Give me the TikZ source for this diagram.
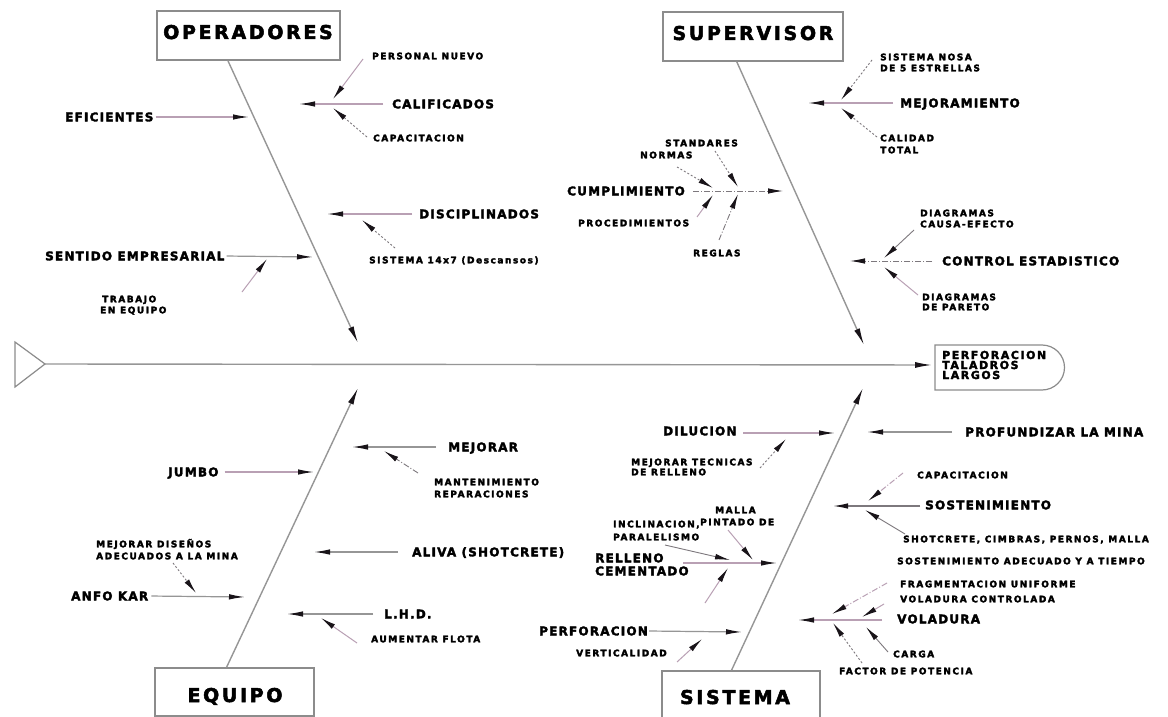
\documentclass[tikz,border=0pt]{standalone}
\usepackage{fontspec}
\usetikzlibrary{arrows.meta,calc}
\newfontfamily\fhead{DejaVu Sans}[LetterSpace=14, BoldFeatures={FakeBold=2.6}]
\newfontfamily\fmid{DejaVu Sans}[LetterSpace=10, BoldFeatures={FakeBold=2.6}]
\newfontfamily\fsml{DejaVu Sans}[LetterSpace=17, BoldFeatures={FakeBold=3}]
\newfontfamily\ftip{DejaVu Sans}[LetterSpace=14, BoldFeatures={FakeBold=2.6}]
\definecolor{bonec}{RGB}{150,150,150}
\definecolor{branchc}{RGB}{185,160,180}
\definecolor{diagc}{RGB}{125,120,125}
\definecolor{tipc}{RGB}{25,20,25}
\definecolor{boxc}{RGB}{140,140,140}
\tikzset{
  catbox/.style={draw=boxc, line width=1.2pt, fill=white, inner sep=0pt},
  cattext/.style={inner sep=0pt, text height=14pt, text depth=0pt,
    font=\fhead\bfseries\fontsize{19}{19}\selectfont},
  headtxt/.style={inner sep=0pt, anchor=west, align=left,
    font=\ftip\bfseries\fontsize{11}{10}\selectfont},
  lblM/.style={inner sep=0pt, anchor=west, text height=8.7pt, text depth=0pt,
    font=\fmid\bfseries\fontsize{12}{12}\selectfont},
  lblS/.style={inner sep=0pt, anchor=west, text height=6.6pt, text depth=0pt,
    font=\fsml\bfseries\fontsize{9}{9}\selectfont},
  boxline/.style={draw=boxc, line width=1.2pt},
  spine/.style={draw=bonec, line width=1.4pt, -{Latex[length=17pt,width=6pt,color=tipc]}},
  bone/.style={draw=bonec, line width=1.4pt, -{Latex[length=17pt,width=6pt,color=tipc]}},
  branch/.style={draw=branchc, line width=1.2pt, -{Latex[length=16pt,width=5.5pt,color=tipc]}},
  graybranch/.style={draw=bonec, line width=1.2pt, -{Latex[length=16pt,width=5.5pt,color=tipc]}},
  twig/.style={draw=diagc, line width=0.9pt, -{Latex[length=15pt,width=5.5pt,color=tipc]}},
  lighttwig/.style={draw=branchc, line width=1pt, -{Latex[length=15pt,width=5.5pt,color=tipc]}},
  dotln/.style={dash pattern=on 2pt off 2pt},
  dashdotln/.style={dash pattern=on 6pt off 2pt on 1pt off 2pt}
}
\begin{document}
\begin{tikzpicture}[x=1pt,y=-1pt]
\fill[white] (0,0) rectangle (1168,717);
\useasboundingbox (0,0) rectangle (1168,717);

% ---------- spine, tail and head ----------
\coordinate (tailTop) at (15,342);
\coordinate (tailBot) at (15,387);
\coordinate (tailTip) at (45,364);
\draw[boxline] (tailTop) -- (tailTip) -- (tailBot) -- cycle;
\draw[boxline] (935,345) -- (1042,345) arc[start angle=-90,end angle=90,radius=22.5] -- (935,390) -- cycle;
\node[headtxt] (head) at (942,365) {PERFORACION\\TALADROS\\LARGOS};
\draw[spine, shorten >=10pt] (tailTip) -- (head.west);

% ---------- category boxes ----------
\node[catbox, minimum width=183pt, minimum height=49pt] (opBox) at (248.5,35.5) {};
\node[cattext] (opLbl) at (248,32) {OPERADORES};
\node[catbox, minimum width=180pt, minimum height=49pt] (supBox) at (753,36.5) {};
\node[cattext] (supLbl) at (753,33) {SUPERVISOR};
\node[catbox, minimum width=159pt, minimum height=48pt] (eqBox) at (234.5,692) {};
\node[cattext] (eqLbl) at (235,695) {EQUIPO};
\node[catbox, minimum width=158pt, minimum height=49pt] (siBox) at (741,695.5) {};
\node[cattext] (siLbl) at (735,697) {SISTEMA};

% ---------- main bones ----------
\coordinate (opTip) at (358,343);
\coordinate (supTip) at (864,345);
\coordinate (eqTip) at (358,388);
\coordinate (siTip) at (863,388);
\draw[bone] ($(opBox.south west)!0.388!(opBox.south east)$) -- (opTip);
\draw[bone] ($(supBox.south west)!0.41!(supBox.south east)$) -- (supTip);
\draw[bone] ($(eqBox.north west)!0.45!(eqBox.north east)$) -- (eqTip);
\draw[bone] ($(siBox.north west)!0.44!(siBox.north east)$) -- (siTip);

% ---------- OPERADORES ----------
\node[lblM] (efic) at (65,117) {EFICIENTES};
\coordinate (eficT) at (249,117);
\draw[branch, shorten <=2pt] (efic.east) -- (eficT);

\node[lblM] (calif) at (392,104) {CALIFICADOS};
\coordinate (califS) at (383,104);
\coordinate (califT) at (299,104);
\draw[branch] (califS) -- (califT);
\node[lblS] (persn) at (372,56) {PERSONAL NUEVO};
\coordinate (persnS) at (363,59);
\coordinate (persnT) at (333,99);
\draw[lighttwig] (persnS) -- (persnT);
\node[lblS] (capop) at (373,138) {CAPACITACION};
\coordinate (capopS) at (367,137);
\coordinate (capopT) at (333,108);
\draw[twig, dotln] (capopS) -- (capopT);

\node[lblM] (disc) at (419,214) {DISCIPLINADOS};
\coordinate (discS) at (412,214);
\coordinate (discT) at (327,214);
\draw[branch] (discS) -- (discT);
\node[lblS] (sis14) at (369,260) {SISTEMA 14x7 (Descansos)};
\coordinate (sis14S) at (395,248);
\coordinate (sis14T) at (362,220);
\draw[twig, dotln] (sis14S) -- (sis14T);

\node[lblM] (sent) at (45,256) {SENTIDO EMPRESARIAL};
\coordinate (sentT) at (313,257);
\draw[graybranch, shorten <=2pt] (sent.east) -- (sentT);
\node[lblS] (trab1) at (102,299) {TRABAJO};
\node[lblS] (trab2) at (100,310) {EN EQUIPO};
\coordinate (trabS) at (242,292);
\coordinate (trabT) at (267,259);
\draw[lighttwig] (trabS) -- (trabT);

% ---------- SUPERVISOR ----------
\node[lblM] (mejo) at (900,103) {MEJORAMIENTO};
\coordinate (mejoS) at (893,103);
\coordinate (mejoT) at (808,103);
\draw[branch] (mejoS) -- (mejoT);
\node[lblS] (nosa1) at (880,57) {SISTEMA NOSA};
\node[lblS] (nosa2) at (880,68) {DE 5 ESTRELLAS};
\coordinate (nosaS) at (872,60);
\coordinate (nosaT) at (841,100);
\draw[twig, dotln] (nosaS) -- (nosaT);
\node[lblS] (cal1) at (880,138) {CALIDAD};
\node[lblS] (cal2) at (880,150) {TOTAL};
\coordinate (calS) at (877,137);
\coordinate (calT) at (841,108);
\draw[twig, dotln] (calS) -- (calT);

\node[lblM] (cump) at (567,191) {CUMPLIMIENTO};
\coordinate (cumpS) at (693,191);
\coordinate (cumpT) at (783,191);
\draw[twig, dashdotln] (cumpS) -- (cumpT);
\node[lblS] (stand) at (665,143) {STANDARES};
\coordinate (standS) at (715,151);
\coordinate (standT) at (738,187);
\draw[twig, dotln] (standS) -- (standT);
\node[lblS] (norm) at (640,155) {NORMAS};
\coordinate (normS) at (677,167);
\coordinate (normT) at (713,188);
\draw[twig, dotln] (normS) -- (normT);
\node[lblS] (proc) at (578,223) {PROCEDIMIENTOS};
\coordinate (procS) at (697,217);
\coordinate (procT) at (713,195);
\draw[lighttwig] (procS) -- (procT);
\node[lblS] (regl) at (693,253) {REGLAS};
\coordinate (reglS) at (719,240);
\coordinate (reglT) at (738,194);
\draw[twig, dashdotln] (reglS) -- (reglT);

\node[lblM] (ctrl) at (942,261) {CONTROL ESTADISTICO};
\coordinate (ctrlS) at (932,261);
\coordinate (ctrlT) at (850,261);
\draw[twig, dashdotln] (ctrlS) -- (ctrlT);
\node[lblS] (ce1) at (920,213) {DIAGRAMAS};
\node[lblS] (ce2) at (920,224) {CAUSA-EFECTO};
\coordinate (ceS) at (914,230);
\coordinate (ceT) at (884,258);
\draw[twig] (ceS) -- (ceT);
\node[lblS] (par1) at (922,297) {DIAGRAMAS};
\node[lblS] (par2) at (922,307) {DE PARETO};
\coordinate (parS) at (918,295);
\coordinate (parT) at (884,267);
\draw[lighttwig] (parS) -- (parT);

% ---------- EQUIPO ----------
\node[lblM] (mejr) at (448,447) {MEJORAR};
\coordinate (mejrS) at (436,447);
\coordinate (mejrT) at (352,447);
\draw[graybranch] (mejrS) -- (mejrT);
\node[lblS] (mant1) at (434,482) {MANTENIMIENTO};
\node[lblS] (mant2) at (434,494) {REPARACIONES};
\coordinate (mantS) at (418,473);
\coordinate (mantT) at (384,451);
\draw[twig, dashdotln] (mantS) -- (mantT);

\node[lblM] (jumb) at (168,472) {JUMBO};
\coordinate (jumbT) at (314,472);
\draw[branch, shorten <=6pt] (jumb.east) -- (jumbT);

\node[lblM] (aliv) at (412,552) {ALIVA (SHOTCRETE)};
\coordinate (alivS) at (398,552);
\coordinate (alivT) at (314,552);
\draw[graybranch] (alivS) -- (alivT);

\node[lblM] (anfo) at (71,596) {ANFO KAR};
\coordinate (anfoT) at (245,597);
\draw[graybranch, shorten <=3pt] (anfo.east) -- (anfoT);
\node[lblS] (dis1) at (96,544) {MEJORAR DISEÑOS};
\node[lblS] (dis2) at (96,556) {ADECUADOS A LA MINA};
\coordinate (disS) at (173,563);
\coordinate (disT) at (196,593);
\draw[twig, dotln] (disS) -- (disT);

\node[lblM] (lhd) at (384,614) {L.H.D.};
\coordinate (lhdS) at (373,614);
\coordinate (lhdT) at (287,614);
\draw[graybranch] (lhdS) -- (lhdT);
\node[lblS] (flot) at (371,639) {AUMENTAR FLOTA};
\coordinate (flotS) at (357,643);
\coordinate (flotT) at (321,618);
\draw[lighttwig] (flotS) -- (flotT);

% ---------- SISTEMA ----------
\node[lblM] (dilu) at (663,431) {DILUCION};
\coordinate (diluS) at (743,433);
\coordinate (diluT) at (835,433);
\draw[branch] (diluS) -- (diluT);
\node[lblS] (tec1) at (631,462) {MEJORAR TECNICAS};
\node[lblS] (tec2) at (631,472) {DE RELLENO};
\coordinate (tecS) at (760,468);
\coordinate (tecT) at (786,439);
\draw[twig, dotln] (tecS) -- (tecT);

\node[lblM] (prof) at (965,432) {PROFUNDIZAR LA MINA};
\coordinate (profS) at (952,432);
\coordinate (profT) at (867,432);
\draw[graybranch] (profS) -- (profT);

\node[lblM] (sost) at (925,505) {SOSTENIMIENTO};
\coordinate (sostS) at (920,506);
\coordinate (sostT) at (833,506);
\draw[twig, line width=1.2pt] (sostS) -- (sostT);
\node[lblS] (capsi) at (917,475) {CAPACITACION};
\coordinate (capsiS) at (903,473);
\coordinate (capsiT) at (868,501);
\draw[lighttwig, dashdotln] (capsiS) -- (capsiT);
\node[lblS] (shot) at (903,539) {SHOTCRETE, CIMBRAS, PERNOS, MALLA};
\coordinate (shotS) at (905,534);
\coordinate (shotT) at (865,510);
\draw[twig] (shotS) -- (shotT);
\node[lblS] (adec) at (897,561) {SOSTENIMIENTO ADECUADO Y A TIEMPO};

\node[lblM] (rel1) at (595,558) {RELLENO};
\node[lblM] (rel2) at (595,571) {CEMENTADO};
\coordinate (relS) at (683,563);
\coordinate (relT) at (777,563);
\draw[branch] (relS) -- (relT);
\node[lblS] (incl1) at (613,524) {INCLINACION,};
\node[lblS] (incl2) at (613,537) {PARALELISMO};
\coordinate (inclS) at (665,545);
\coordinate (inclT) at (730,560);
\draw[twig] (inclS) -- (inclT);
\node[lblS] (mall1) at (715,510) {MALLA};
\node[lblS] (mall2) at (700,522) {PINTADO DE};
\coordinate (mallS) at (728,530);
\coordinate (mallT) at (753,560);
\draw[lighttwig] (mallS) -- (mallT);
\coordinate (relLowS) at (705,603);
\coordinate (relLowT) at (728,568);
\draw[lighttwig] (relLowS) -- (relLowT);

\node[lblM] (perf) at (539,631) {PERFORACION};
\coordinate (perfT) at (742,632);
\draw[graybranch, shorten <=1pt] (perf.east) -- (perfT);
\node[lblS] (vert) at (576,653) {VERTICALIDAD};
\coordinate (vertS) at (677,662);
\coordinate (vertT) at (702,639);
\draw[lighttwig] (vertS) -- (vertT);

\node[lblM] (vola) at (897,619) {VOLADURA};
\coordinate (volaS) at (882,620);
\coordinate (volaT) at (798,620);
\draw[branch] (volaS) -- (volaT);
\node[lblS] (frag) at (900,584) {FRAGMENTACION UNIFORME};
\coordinate (fragS) at (887,583);
\coordinate (fragT) at (832,614);
\draw[lighttwig, dashdotln] (fragS) -- (fragT);
\node[lblS] (vcon) at (900,599) {VOLADURA CONTROLADA};
\coordinate (vconS) at (884,604);
\coordinate (vconT) at (862,617);
\draw[lighttwig] (vconS) -- (vconT);
\node[lblS] (carg) at (893,654) {CARGA};
\coordinate (cargS) at (888,652);
\coordinate (cargT) at (866,627);
\draw[twig] (cargS) -- (cargT);
\node[lblS] (fact) at (839,671) {FACTOR DE POTENCIA};
\coordinate (factS) at (862,663);
\coordinate (factT) at (833,623);
\draw[twig, dotln] (factS) -- (factT);
\end{tikzpicture}
\end{document}
